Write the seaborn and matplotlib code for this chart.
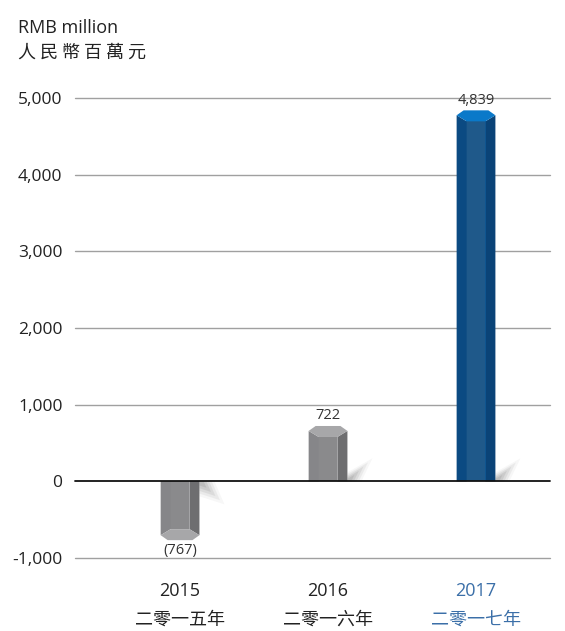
import matplotlib
matplotlib.use("Agg")
import matplotlib.pyplot as plt
import seaborn as sns
import pandas as pd
from matplotlib.patches import Polygon

years = ["2015", "2016", "2017"]
years_cn = ["二零一五年", "二零一六年", "二零一七年"]
profit = [-767, 722, 4839]
value_labels = ["(767)", "722", "4,839"]
y_ticks = [-1000, 0, 1000, 2000, 3000, 4000, 5000]

FONTS = ["Open Sans", "Noto Sans CJK TC", "DejaVu Sans"]

sns.set_theme(style="white")
plt.rcParams["font.family"] = FONTS

# colours: (left face, front face, right face, edge highlight, cap)
gray = ("#868689", "#8a8a8c", "#6e6e70", "#a4a4a6", "#a7a7a9")
blue = ("#0b4a82", "#0d5b9c", "#0a4377", "#0f5590", "#0a79c9")
styles = [gray, gray, blue]

df = pd.DataFrame({"year": years, "profit": profit})

fig = plt.figure(figsize=(5.65, 6.31), dpi=100)
ax = fig.add_axes([75 / 565, 1 - 558 / 631, 475 / 565, 460 / 631])

sns.barplot(data=df, x="year", y="profit", hue="year",
            palette=[s[1] for s in styles], width=0.262, linewidth=0,
            legend=False, ax=ax, zorder=3)

ax.set_ylim(-1000, 5000)
ax.set_xlim(-0.71, 2.5)
ax.set_yticks(y_ticks)
ax.set_yticklabels([f"{v:,}" for v in y_ticks], fontsize=12.5, color="#222222")
for v in y_ticks:
    ax.axhline(v, color="#111111" if v == 0 else "#a0a0a0",
               lw=1.3 if v == 0 else 1.0, zorder=4 if v == 0 else 1, clip_on=False)
for s in ax.spines.values():
    s.set_visible(False)
ax.tick_params(axis="both", length=0, pad=9)
ax.set_xlabel("")
ax.set_ylabel("")

# pixel sizes in data units
px_x = (ax.get_xlim()[1] - ax.get_xlim()[0]) / 475
px_y = (ax.get_ylim()[1] - ax.get_ylim()[0]) / 460

bars = list(ax.patches)
for bar, st, lab in zip(bars, styles, value_labels):
    x0 = bar.get_x()
    w = bar.get_width()
    x1 = x0 + w
    h = bar.get_height()
    sgn = 1 if h >= 0 else -1
    side = 10 * px_x
    cap = 11 * px_y
    body_end = h - sgn * cap
    mid = h - sgn * cap * 0.45
    bar.set_height(body_end)
    # side faces of the prism, running up to the cap corners
    ax.add_patch(Polygon([(x0, 0), (x0, mid), (x0 + side, body_end), (x0 + side, 0)],
                         closed=True, color=st[0], lw=0, zorder=3))
    ax.add_patch(Polygon([(x1 - side, 0), (x1 - side, body_end), (x1, mid), (x1, 0)],
                         closed=True, color=st[2], lw=0, zorder=3))
    ax.add_patch(Polygon([(x1 - side, 0), (x1 - side, body_end),
                          (x1 - side + px_x, body_end), (x1 - side + px_x, 0)],
                         closed=True, color=st[3], lw=0, zorder=3))
    # hexagonal cap
    hexa = [(x0, mid), (x0 + 7 * px_x, h), (x1 - 7 * px_x, h), (x1, mid),
            (x1 - side, body_end), (x0 + side, body_end)]
    ax.add_patch(Polygon(hexa, closed=True, color=st[4], lw=0, zorder=3))
    # soft shadow
    if sgn > 0:
        shape = [(0, 0), (0, 9), (25, 23), (14, 0)]
    else:
        shape = [(0, 0), (0, -15), (25, -23), (15, 0)]
    for k, a in enumerate([0.08, 0.13, 0.18, 0.24, 0.30]):
        f = 1 - k * 0.18
        shade = [(x1 + dx * px_x * f, dy * px_y * f) for dx, dy in shape]
        ax.add_patch(Polygon(shade, closed=True, color="#9a9a9a", alpha=a, lw=0, zorder=2))
    # value label
    ax.annotate(lab, (x0 + w / 2, h), xytext=(0, 2 * sgn), textcoords="offset points",
                ha="center", va="bottom" if sgn > 0 else "top",
                fontsize=10.5, color="#333333", zorder=5)

ax.set_xticks(range(len(years)))
ax.set_xticklabels([f"{y}\n{c}" for y, c in zip(years, years_cn)],
                   fontsize=13, linespacing=1.8)
ax.tick_params(axis="x", pad=17)
for t, col in zip(ax.get_xticklabels(), ["#222222", "#222222", "#3b6fa8"]):
    t.set_color(col)

fig.text(18 / 565, 1 - 28 / 631, "RMB million", fontsize=13, color="#222222",
         va="center", ha="left")
fig.text(18 / 565, 1 - 53 / 631, "人 民 幣 百 萬 元", fontsize=13, color="#222222",
         va="center", ha="left", family=["Noto Sans CJK TC", "DejaVu Sans"])

fig.savefig("out.png", dpi=100, facecolor="white")
